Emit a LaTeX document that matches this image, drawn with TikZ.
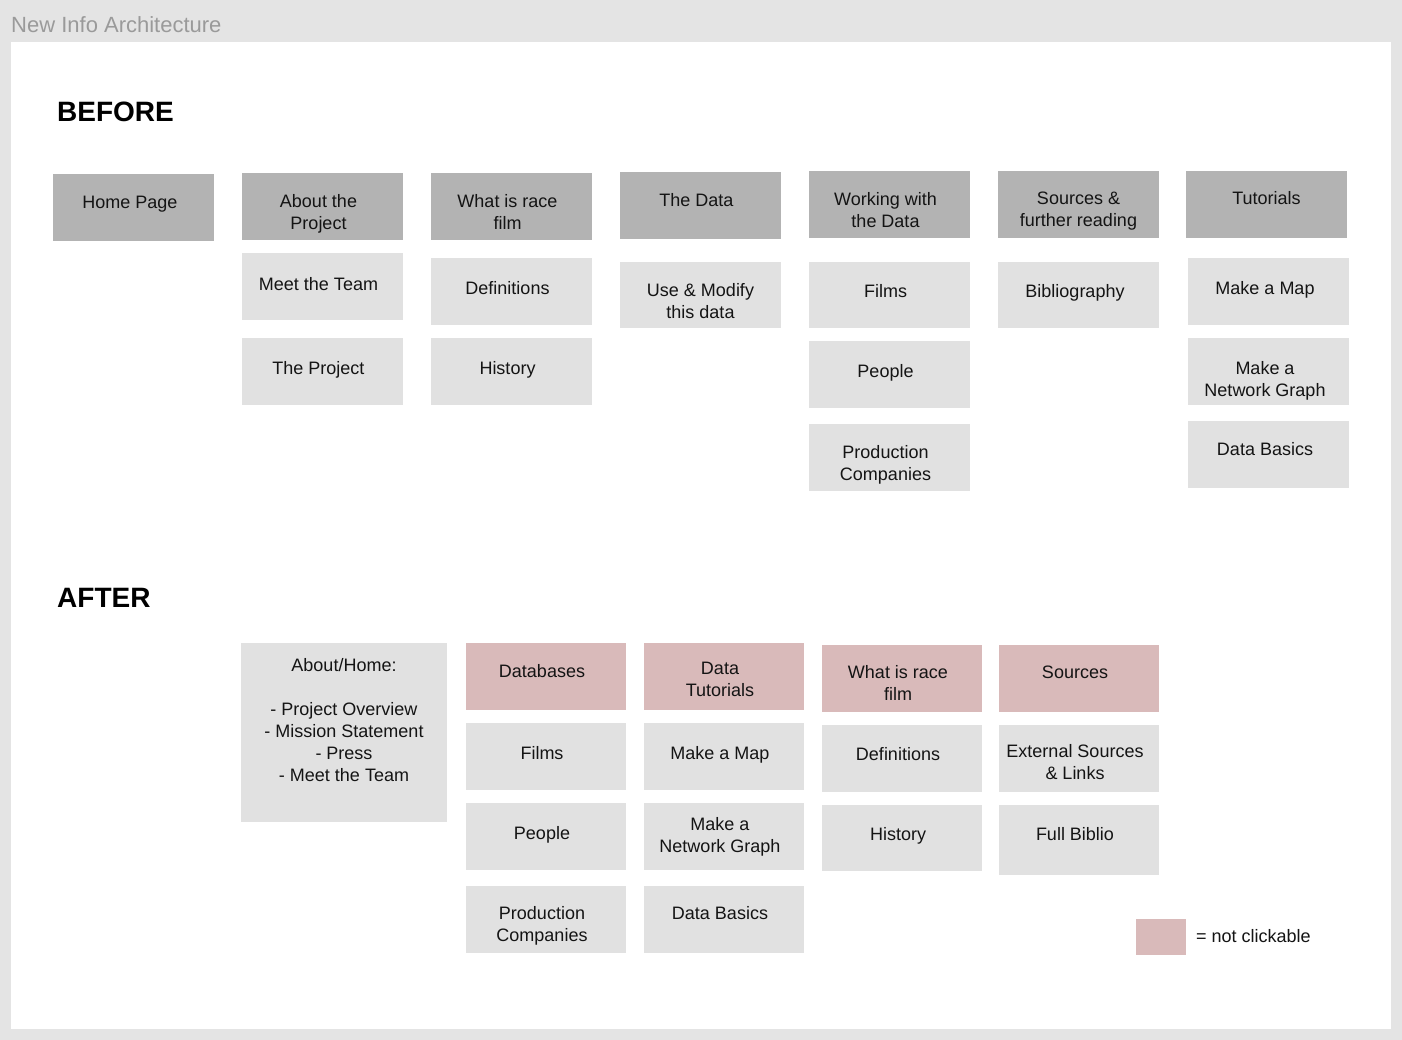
\documentclass[tikz,border=0pt]{standalone}
\usepackage{fontspec}
\setmainfont{Liberation Sans}
\definecolor{frame}{HTML}{E4E4E4}
\definecolor{dark}{HTML}{B3B3B3}
\definecolor{light}{HTML}{E1E1E1}
\definecolor{pink}{HTML}{D9BABA}
\definecolor{titlegray}{HTML}{9A9A9A}
\newcommand\mybox[9]{%
  \node[#6, minimum width=#4pt, minimum height=#5pt, anchor=north west] (#1) at (#2,-#3) {};
  \node[txt, anchor=north] (#1-t) at ({#2+#4/2+#9},{-#7+6.5}) {#8};
}
\tikzset{
  box/.style={inner sep=0pt, outer sep=0pt, draw=none},
  darkbox/.style={box, fill=dark},
  lightbox/.style={box, fill=light},
  pinkbox/.style={box, fill=pink},
  txt/.style={inner sep=0pt, align=center, font=\fontsize{18}{22}\selectfont, text=black!92},
  heading/.style={inner sep=0pt, anchor=west, font=\fontsize{28}{32}\selectfont\bfseries},
}
\begin{document}
\begin{tikzpicture}[x=1pt,y=1pt]
\useasboundingbox (0,0) rectangle (1402,-1040);
\fill[frame] (0,0) rectangle (1402,-1040);
\fill[white] (11,-42) rectangle (1391,-1029);
\node[inner sep=0pt, anchor=west, text=titlegray, font=\fontsize{22}{26}\selectfont] (title) at (11,-25) {New Info Architecture};
\node[heading] (before) at (57,-112) {BEFORE};
\node[heading] (after) at (57,-598) {AFTER};
% BEFORE row
\mybox{hp}{53}{174}{161}{67}{darkbox}{202}{Home Page}{-3.5}
\mybox{ap}{242}{173}{161}{67}{darkbox}{201}{About the\\Project}{-4}
\mybox{wr}{431}{173}{161}{67}{darkbox}{201}{What is race\\film}{-4}
\mybox{td}{620}{172}{161}{67}{darkbox}{200}{The Data}{-4}
\mybox{ww}{809}{171}{161}{67}{darkbox}{199}{Working with\\the Data}{-4}
\mybox{sf}{998}{171}{161}{67}{darkbox}{198}{Sources \&\\further reading}{0}
\mybox{tu}{1186}{171}{161}{67}{darkbox}{198}{Tutorials}{0}
\mybox{mt}{242}{253}{161}{67}{lightbox}{284}{Meet the Team}{-4}
\mybox{tp}{242}{338}{161}{67}{lightbox}{368}{The Project}{-4}
\mybox{de}{431}{258}{161}{67}{lightbox}{288}{Definitions}{-4}
\mybox{hi}{431}{338}{161}{67}{lightbox}{368}{History}{-4}
\mybox{um}{620}{262}{161}{66}{lightbox}{290}{Use \& Modify\\this data}{0}
\mybox{fi}{809}{262}{161}{66}{lightbox}{291}{Films}{-4}
\mybox{pe}{809}{341}{161}{67}{lightbox}{371}{People}{-4}
\mybox{pc}{809}{424}{161}{67}{lightbox}{452}{Production\\Companies}{-4}
\mybox{bi}{998}{262}{161}{66}{lightbox}{291}{Bibliography}{-3.5}
\mybox{mm}{1188}{258}{161}{67}{lightbox}{288}{Make a Map}{-3.5}
\mybox{mn}{1188}{338}{161}{67}{lightbox}{368}{Make a\\Network Graph}{-3.5}
\mybox{db}{1188}{421}{161}{67}{lightbox}{449}{Data Basics}{-3.5}
% AFTER
\mybox{ah}{241}{643}{206}{179}{lightbox}{665}{About/Home:\\ \\- Project Overview\\- Mission Statement\\- Press\\- Meet the Team}{0}
\mybox{da}{466}{643}{160}{67}{pinkbox}{671}{Databases}{-4}
\mybox{dt}{644}{643}{160}{67}{pinkbox}{668}{Data\\Tutorials}{-4}
\mybox{wra}{822}{645}{160}{67}{pinkbox}{672}{What is race\\film}{-4}
\mybox{so}{999}{645}{160}{67}{pinkbox}{672}{Sources}{-4}
\mybox{fia}{466}{723}{160}{67}{lightbox}{753}{Films}{-4}
\mybox{mma}{644}{723}{160}{67}{lightbox}{753}{Make a Map}{-4}
\mybox{dea}{822}{725}{160}{67}{lightbox}{754}{Definitions}{-4}
\mybox{es}{999}{725}{160}{67}{lightbox}{751}{External Sources\\\& Links}{-4}
\mybox{pea}{466}{803}{160}{67}{lightbox}{833}{People}{-4}
\mybox{mna}{644}{803}{160}{67}{lightbox}{824}{Make a\\Network Graph}{-4}
\mybox{hia}{822}{805}{160}{66}{lightbox}{834}{History}{-4}
\mybox{fb}{999}{805}{160}{70}{lightbox}{834}{Full Biblio}{-4}
\mybox{pca}{466}{886}{160}{67}{lightbox}{913}{Production\\Companies}{-4}
\mybox{dba}{644}{886}{160}{67}{lightbox}{913}{Data Basics}{-4}
% legend
\node[pinkbox, minimum width=50pt, minimum height=36pt, anchor=north west] (leg) at (1136,-919) {};
\node[txt, anchor=west] (legt) at (1196,-936) {= not clickable};
\end{tikzpicture}
\end{document}
